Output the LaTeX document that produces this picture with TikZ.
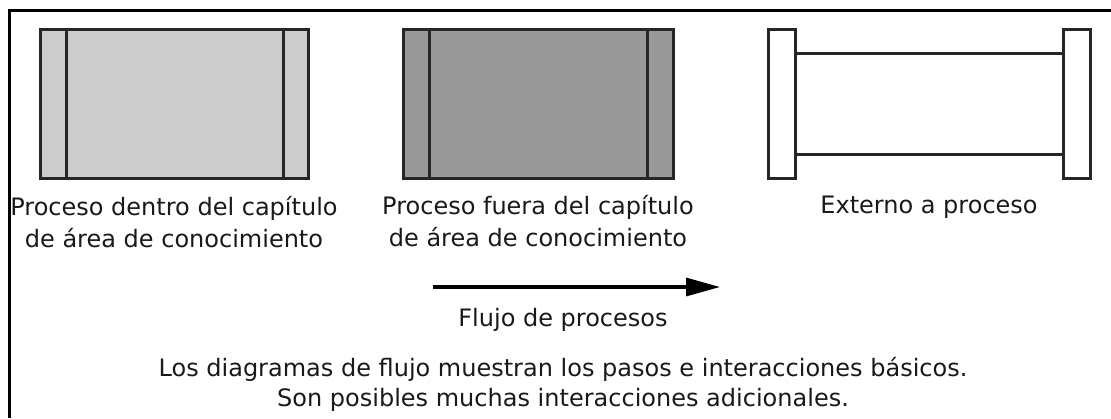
\documentclass[tikz,border=0pt]{standalone}
\usepackage{fontspec}
\setmainfont{DejaVu Sans}
\usetikzlibrary{arrows.meta,calc}
\begin{document}
\begin{tikzpicture}[x=1pt,y=-1pt,
  proc/.style={draw=black!85,line width=3pt,inner sep=0pt,minimum width=#1,minimum height=149pt},
  endcap/.style={draw=black!85,line width=3pt,fill=white,inner sep=0pt,minimum width=27pt,minimum height=149pt},
  divider/.style={draw=black!85,line width=3pt},
  lbl/.style={font=\fontsize{24}{32}\selectfont,align=center,inner sep=0pt,anchor=base,text=black!90},
  flow/.style={line width=3.2pt,-{Triangle[length=34pt,width=18pt]}}
]
\useasboundingbox (0,0) rectangle (1111,418);
% frame (top and left sides visible)
\draw[line width=3pt] (9,418) -- (9,10) -- (1111,10);

% process inside the chapter
\node[proc=268pt,fill=black!20] (pin) at (174,103.5) {};
\draw[divider] ($(pin.north west)+(28,0)$) -- ($(pin.south west)+(28,0)$);
\draw[divider] ($(pin.north east)+(-26,0)$) -- ($(pin.south east)+(-26,0)$);
\node[lbl] (tin) at (174,247) {Proceso dentro del capítulo\\de área de conocimiento};

% process outside the chapter
\node[proc=270pt,fill=black!40] (pout) at (538,103.5) {};
\draw[divider] ($(pout.north west)+(28,0)$) -- ($(pout.south west)+(28,0)$);
\draw[divider] ($(pout.north east)+(-27,0)$) -- ($(pout.south east)+(-27,0)$);
\node[lbl] (tout) at (538,246) {Proceso fuera del capítulo\\de área de conocimiento};

% external to process
\node[endcap] (capl) at (782,103.5) {};
\node[endcap] (capr) at (1076.5,103.5) {};
\coordinate (ya) at (0,53);
\coordinate (yb) at (0,154);
\draw[divider] (capl.east |- ya) -- (capr.west |- ya);
\draw[divider] (capl.east |- yb) -- (capr.west |- yb);
\node[lbl] (text) at (929,213) {Externo a proceso};

% flow arrow
\coordinate (fa) at (433,287);
\coordinate (fb) at (720,287);
\draw[flow] (fa) -- (fb);
\node[lbl] (tflow) at (563,326) {Flujo de procesos};

% note
\node[lbl,font=\fontsize{24}{30}\selectfont] (note) at (563,406) {Los diagramas de flujo muestran los pasos e interacciones básicos.\\Son posibles muchas interacciones adicionales.};
\end{tikzpicture}
\end{document}
